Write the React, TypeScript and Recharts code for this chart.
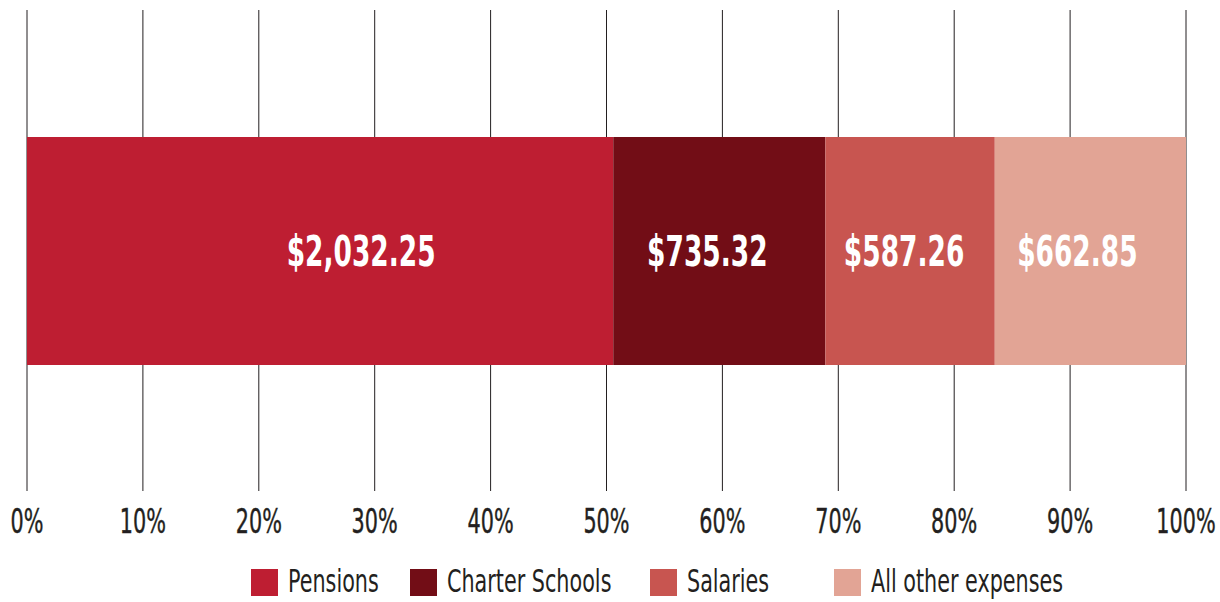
import React from 'react';
import { BarChart, Bar, XAxis, YAxis, CartesianGrid, LabelList, Legend } from 'recharts';

const categories = ['Spending'];
const seriesNames = ['Pensions', 'Charter Schools', 'Salaries', 'All other expenses'];
const seriesKeys = ['pensions', 'charter', 'salaries', 'other'];
const pensions = [2032.25];
const charter = [735.32];
const salaries = [587.26];
const other = [662.85];
const tickValues = [0, 0.1, 0.2, 0.3, 0.4, 0.5, 0.6, 0.7, 0.8, 0.9, 1];
const colors = ['#BE1E32', '#720D16', '#C85550', '#E2A495'];
const labelOffsets = [41, -12, -6, -13];
const legendWidths = [159, 240, 184, 240];

const data = categories.map((c, i) => ({
  name: c,
  pensions: pensions[i],
  charter: charter[i],
  salaries: salaries[i],
  other: other[i],
}));

const FONT = "'DejaVu Sans Condensed', 'DejaVu Sans', sans-serif";
const SX = 0.7;
const TEXT = '#231F20';

const fmtMoney = (v: any) =>
  '$' + Number(v).toLocaleString('en-US', { minimumFractionDigits: 2, maximumFractionDigits: 2 });

const Tick = (props: any) => {
  const { x, y, payload } = props;
  return (
    <text
      transform={`translate(${x},${y + 42}) scale(${SX},1)`}
      textAnchor="middle"
      fontFamily={FONT}
      fontSize={33}
      fill={TEXT}
      stroke={TEXT}
      strokeWidth={0.4}
    >
      {Math.round(payload.value * 100) + '%'}
    </text>
  );
};

const makeLabel = (offset: number) => (props: any) => {
  const { x, y, width, height, value } = props;
  const cx = Number(x) + Number(width) / 2 + offset;
  const cy = Number(y) + Number(height) / 2;
  return (
    <text
      transform={`translate(${cx},${cy + 15}) scale(${SX},1)`}
      textAnchor="middle"
      fontFamily={FONT}
      fontWeight="bold"
      fontSize={42}
      fill="#FFFFFF"
    >
      {fmtMoney(value)}
    </text>
  );
};

const LegendContent = () => (
  <div style={{ display: 'flex', alignItems: 'flex-start', fontFamily: FONT, fontSize: 32, color: TEXT }}>
    {seriesNames.map((n, i) => (
      <div key={n} style={{ display: 'flex', alignItems: 'flex-start', width: legendWidths[i], flex: 'none' }}>
        <div style={{ width: 27, height: 27, marginTop: 1, background: colors[i], marginRight: 10, flex: 'none' }} />
        <span
          style={{
            display: 'inline-block',
            transform: `scaleX(0.72)`,
            transformOrigin: 'left center',
            whiteSpace: 'nowrap',
            lineHeight: '27px',
            marginTop: 0,
          }}
        >
          {n}
        </span>
      </div>
    ))}
  </div>
);

export default function App() {
  return (
    <div style={{ position: 'absolute', left: 0, top: 0, width: 1220, height: 602, background: '#fff', overflow: 'hidden' }}>
      <BarChart
        width={1220}
        height={602}
        data={data}
        layout="vertical"
        stackOffset="expand"
        margin={{ top: 10, left: 27, right: 34, bottom: 0 }}
      >
        <CartesianGrid horizontal={false} vertical={true} stroke={TEXT} strokeWidth={1} />
        <XAxis
          type="number"
          domain={[0, 1]}
          ticks={tickValues}
          axisLine={false}
          tickLine={false}
          tickSize={0}
          tickMargin={0}
          height={81}
          tick={<Tick />}
          interval={0}
        />
        <YAxis type="category" dataKey="name" hide />
        {seriesKeys.map((k, i) => (
          <Bar key={k} dataKey={k} name={seriesNames[i]} stackId="a" fill={colors[i]} barSize={228} isAnimationActive={false}>
            <LabelList dataKey={k} content={makeLabel(labelOffsets[i])} />
          </Bar>
        ))}
        <Legend
          content={<LegendContent />}
          wrapperStyle={{ position: 'absolute', left: 251, top: 568, width: 'auto', height: 30 }}
        />
      </BarChart>
    </div>
  );
}
